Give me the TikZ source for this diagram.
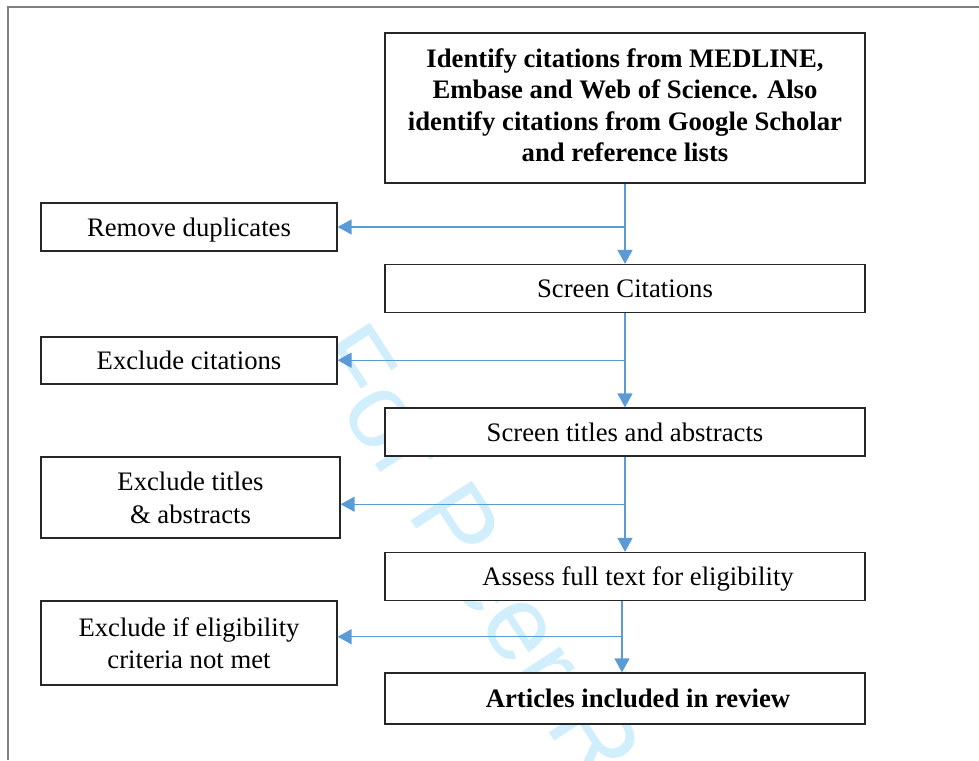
\documentclass[tikz,border=0pt]{standalone}
\usepackage{fontspec}
\setmainfont{Liberation Serif}
\newfontfamily\wmfont{Liberation Sans}
\usetikzlibrary{arrows.meta,calc}
\definecolor{flowblue}{RGB}{91,155,213}
\definecolor{wmcyan}{RGB}{208,238,251}

\begin{document}
\begin{tikzpicture}[x=1pt, y=-1pt, thick]
\tikzstyle{every node} = [font=\fontsize{26.7}{32.5}\selectfont]
\tikzset{stage/.style={draw=black!85, fill=white, line width=1.2pt, minimum width=480pt, minimum height=48pt, inner sep=0pt, text depth=0pt, align=center}}
\tikzset{side/.style={draw=black!85, fill=white, line width=1.2pt, minimum width=296pt, minimum height=48pt, inner sep=0pt, text depth=0pt, align=center}}
\tikzset{flow/.style={draw=flowblue, line width=1.3pt, -{Triangle[length=14pt,width=15pt]}}}
\useasboundingbox (0,0) rectangle (979,760);
% watermark
\node[text=wmcyan, font=\wmfont\fontsize{106}{106}\selectfont, rotate=-57, anchor=base west] (wm) at (302,352) {For Peer Review};
% frame
\draw[gray, line width=1.5pt] (8,760) -- (8,7) -- (979,7);
% main column
\node[stage, minimum height=150pt, text depth=6pt, font=\bfseries\fontsize{26.7}{31.3}\selectfont] (ident) at (625,108)
  {Identify citations from MEDLINE,\\Embase and Web of Science. Also\\identify citations from Google Scholar\\and reference lists};
\node[stage] (scr) at (625,288.5) {Screen Citations};
\node[stage] (tit) at (625,432) {Screen titles and abstracts};
\node[stage] (ass) at (625,576.5) {\hspace*{26pt}Assess full text for eligibility};
\node[stage, minimum height=51pt, font=\bfseries\fontsize{26.7}{32}\selectfont] (art) at (625,698.5) {\hspace*{26pt}Articles included in review};
% excluded
\node[side] (dup) at (189,227) {Remove duplicates};
\node[side, minimum height=47pt] (exc) at (189,360.5) {Exclude citations};
\node[side, minimum width=299pt, minimum height=81pt] (extit) at (190.5,497.5) {Exclude titles\\\& abstracts};
\node[side, minimum height=84pt] (exelig) at (189,643) {Exclude if eligibility\\criteria not met};
% arrows
\draw[flow] (ident) -- (scr);
\draw[flow] (ident.south |- dup.east) -- (dup.east);
\foreach \from/\to/\out in {scr/tit/exc, tit/ass/extit} {
  \draw[flow] (\from) -- (\to);
  \coordinate (m) at ($(\from.south)!.5!(\to.north)$);
  \draw[flow] (m) -- (m -| \out.east);
}
\draw[flow] ([xshift=-3pt]ass.south) -- ([xshift=-3pt]art.north);
\coordinate (m) at ($([xshift=-3pt]ass.south)!.5!([xshift=-3pt]art.north)$);
\draw[flow] (m) -- (m -| exelig.east);
\end{tikzpicture}
\end{document}
